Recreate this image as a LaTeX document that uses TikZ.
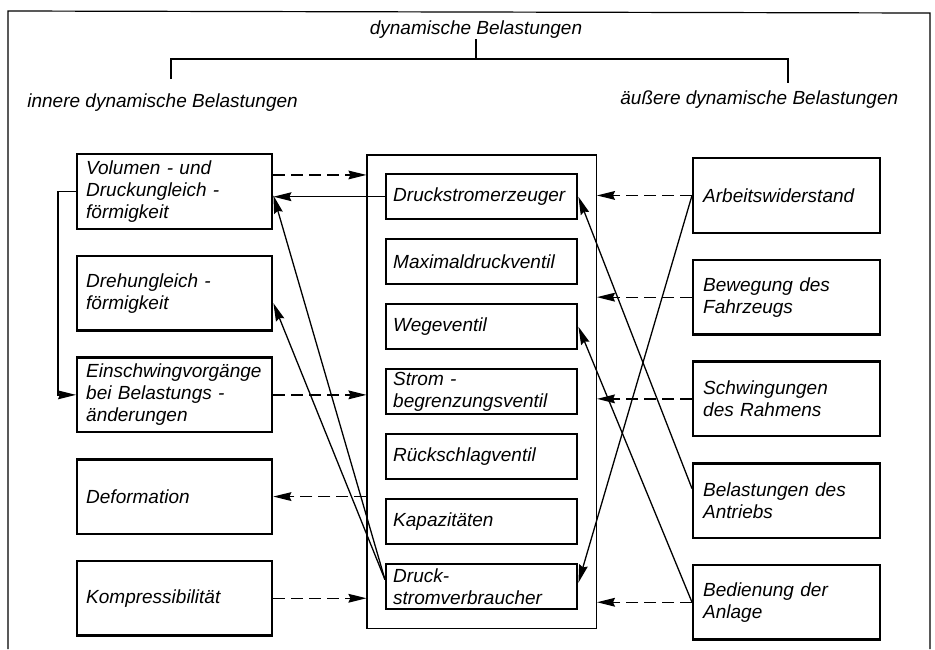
\documentclass[tikz,border=0pt]{standalone}
\usepackage{fontspec}
\setmainfont{Liberation Sans}
\usetikzlibrary{arrows.meta, positioning, fit}

\begin{document}
\begin{tikzpicture}[
    x = 0.5pt, y = -0.5pt,
    node distance = 12.4pt,
    txt/.style  = {font = \itshape\fontsize{9.5}{11}\selectfont},
    lbox/.style = {txt, draw, line width = 1.2pt,
                   text width = 88.5pt, inner xsep = 4.5pt, inner ysep = 1pt,
                   minimum height = 37.25pt, align = left},
    rbox/.style = {lbox, text width = 83.5pt, inner xsep = 5pt},
    mbox/.style = {txt, draw, line width = 1.2pt,
                   text width = 88.5pt, inner xsep = 3.5pt, inner ysep = 0.5pt,
                   minimum height = 22.5pt, align = left},
    head/.style = {txt, inner sep = 0pt},
    brk/.style  = {line width = 1.2pt},
    frame/.style = {line width = 0.6pt},
    sarr/.style = {-{Stealth[length=9pt, width=4.4pt, inset=1pt]}, line width = 0.65pt},
    darr/.style = {sarr, dash pattern = on 6pt off 3pt},
  ]
    \useasboundingbox (0,0) rectangle (935,649);

    %% ── Frame and headings ───────────────────────────────────────
    \draw[frame] (8,649) -- (8,11) -- (930,13) -- (930,649);

    \node[head] (T) at (476,30) {dynamische Belastungen};
    \node[head, anchor=west] (IN) at (27,103) {innere dynamische Belastungen};
    \node[head, anchor=west] (AU) at (620,100) {äußere dynamische Belastungen};

    \coordinate (BL) at (171,59);
    \coordinate (BR) at (788,59);
    \coordinate (BLd) at (171,79);
    \coordinate (BRd) at (788,83);
    \draw[brk] (T.south) -- (T.south |- BL);
    \draw[brk] (BLd) -- (BL) -- (BR) -- (BRd);

    %% ── Left column: inner loads ─────────────────────────────────
    \node[lbox, anchor=north west] (L1) at (76,153)
      {Volumen - und\\Druckungleich -\\förmigkeit};
    \node[lbox, below=of L1] (L2) {Drehungleich -\\förmigkeit};
    \node[lbox, below=of L2] (L3)
      {Einschwingvorgänge\\bei Belastungs -\\änderungen};
    \node[lbox, below=of L3] (L4) {Deformation};
    \node[lbox, below=of L4] (L5) {Kompressibilität};

    %% ── Middle column: hydraulic parts ───────────────────────────
    \node[mbox, anchor=north west] (M1) at (385,173) {Druckstromerzeuger};
    \node[mbox, below=8.8pt of M1] (M2) {Maximaldruckventil};
    \node[mbox, below=8.8pt of M2] (M3) {Wegeventil};
    \node[mbox, below=8.8pt of M3] (M4) {Strom -\\begrenzungsventil};
    \node[mbox, below=8.8pt of M4] (M5) {Rückschlagventil};
    \node[mbox, below=8.8pt of M5] (M6) {Kapazitäten};
    \node[mbox, below=8.8pt of M6] (M7) {Druck-\\stromverbraucher};
    \node[draw, line width = 0.6pt, inner sep = 9pt, fit=(M1)(M7)] (MB) {};

    %% ── Right column: outer loads ────────────────────────────────
    \node[rbox, anchor=north west] (R1) at (692,157) {Arbeitswiderstand};
    \node[rbox, below=of R1] (R2) {Bewegung des\\Fahrzeugs};
    \node[rbox, below=of R2] (R3) {Schwingungen\\des Rahmens};
    \node[rbox, below=of R3] (R4) {Belastungen des\\Antriebs};
    \node[rbox, below=of R4] (R5) {Bedienung der\\Anlage};

    %% ── Left side connectors ─────────────────────────────────────
    \draw[darr] ([yshift=8.25pt]L1.east) -- ([yshift=8.25pt]L1.east -| MB.west);
    \draw[sarr] (M1.west) -- (M1.west -| L1.east);
    \draw[sarr] (L1.west) -- ++(-9pt,0) |- (L3.west);
    \draw[darr] (L3.east) -- (L3.east -| MB.west);
    \draw[darr] (L4.east -| MB.west) -- (L4.east);
    \draw[darr] (L5.east) -- (L5.east -| MB.west);
    \draw[sarr] ([yshift=3.5pt]M7.west) -- ([yshift=-2pt]L1.east);
    \draw[sarr] ([yshift=3.5pt]M7.west) -- ([yshift=-5pt]L2.east);

    %% ── Right side connectors ────────────────────────────────────
    \draw[darr] (R1.west) -- (R1.west -| MB.east);
    \draw[darr] (R2.west) -- (R2.west -| MB.east);
    \draw[darr] (R3.west) -- (R3.west -| MB.east);
    \draw[darr] (R5.west) -- (R5.west -| MB.east);
    \draw[sarr] ([yshift=6pt]R4.west) -- (M1.east);
    \draw[sarr] (R5.west) -- (M3.east);
    \draw[sarr] (R1.west) -- ([yshift=2pt]M7.east);
  \end{tikzpicture}
\end{document}
